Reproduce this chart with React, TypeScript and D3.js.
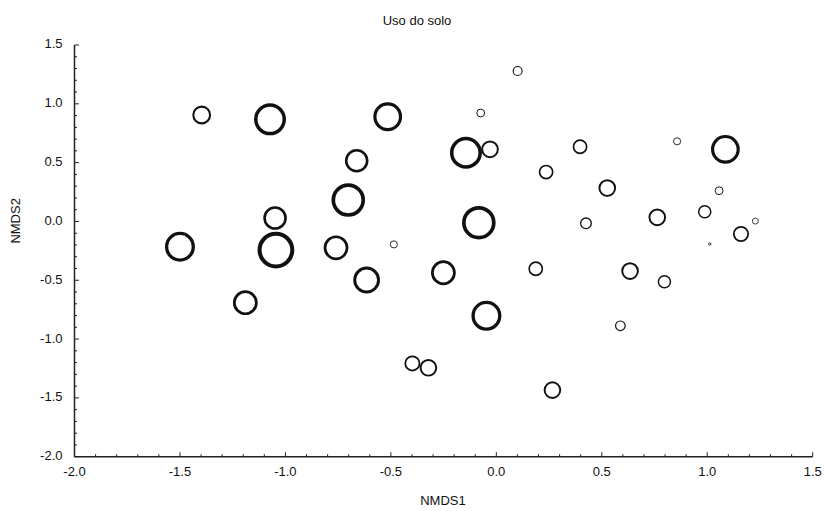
import React from "react";
import * as d3 from "d3";

const title = "Uso do solo";
const xLabel = "NMDS1";
const yLabel = "NMDS2";

const nmds1 = [
  -1.397, -1.073, -0.515, -0.662, -0.702, -1.049, -1.5, -1.045, -0.76, -0.486,
  -0.615, -1.19, -0.398, -0.322, 0.101, -0.074, -0.144, -0.03, 0.397, 0.857,
  1.086, 0.236, 0.526, 1.056, -0.083, 0.425, 0.763, 0.988, 1.228, 1.16,
  1.012, -0.251, 0.187, 0.634, 0.797, -0.047, 0.588, 0.266,
];
const nmds2 = [
  0.905, 0.868, 0.89, 0.516, 0.182, 0.029, -0.215, -0.243, -0.224, -0.195,
  -0.498, -0.691, -1.207, -1.244, 1.279, 0.922, 0.584, 0.613, 0.635, 0.681,
  0.613, 0.42, 0.284, 0.261, -0.011, -0.016, 0.035, 0.082, 0.003, -0.107,
  -0.192, -0.436, -0.402, -0.422, -0.513, -0.802, -0.887, -1.434,
];
const weight = [
  4.7, 8.0, 7.2, 5.9, 8.4, 5.9, 7.5, 9.2, 6.2, 2.0,
  6.7, 6.2, 4.0, 4.4, 2.5, 2.2, 8.0, 4.4, 3.7, 2.0,
  7.2, 3.7, 4.4, 2.2, 8.4, 3.0, 4.4, 3.4, 1.7, 4.0,
  0.8, 6.2, 3.7, 4.4, 3.4, 7.5, 2.7, 4.4,
];

const xTicks = [-2.0, -1.5, -1.0, -0.5, 0.0, 0.5, 1.0, 1.5];
const yTicks = [-2.0, -1.5, -1.0, -0.5, 0.0, 0.5, 1.0, 1.5];

const W = 826;
const H = 511;
const left = 74.5;
const right = 812.7;
const top = 45;
const bottom = 456.7;

export default function App() {
  const x = d3.scaleLinear().domain([-2, 1.5]).range([left, right]);
  const y = d3.scaleLinear().domain([-2, 1.5]).range([bottom, top]);
  const r = d3.scaleLinear().domain([0, 10]).range([0, 20]);
  const minor = d3.range(-20, 16).map((v) => v / 10);
  const font = "'Liberation Sans', Arial, sans-serif";
  const axisColor = "#222";

  return (
    <svg
      width={W}
      height={H}
      style={{ position: "absolute", left: 0, top: 0, background: "#fff" }}
      fontFamily={font}
    >
      <rect x={0} y={0} width={W} height={H} fill="#fff" />
      <text x={417} y={22} textAnchor="middle" dominantBaseline="middle" fontSize={13} fill="#111">
        {title}
      </text>

      {/* bubbles */}
      {nmds1.map((v, i) => {
        const outer = r(weight[i]);
        const sw = Math.max(0.8, outer * 0.22);
        return (
          <circle
            key={i}
            cx={x(v)}
            cy={y(nmds2[i])}
            r={Math.max(0.5, outer - sw / 2)}
            fill="none"
            stroke="#111"
            strokeWidth={sw}
          />
        );
      })}

      {/* axes */}
      <line x1={left} x2={left} y1={top} y2={bottom} stroke={axisColor} strokeWidth={1.5} />
      <line x1={left} x2={right} y1={bottom} y2={bottom} stroke={axisColor} strokeWidth={1.5} />
      {minor.map((v, i) => {
        const major = Math.abs(Math.round(v * 10) % 5) === 0;
        const len = major ? 4.5 : 2.5;
        return (
          <g key={"t" + i}>
            <line x1={x(v)} x2={x(v)} y1={bottom} y2={bottom - len} stroke={axisColor} strokeWidth={1} />
            <line x1={left} x2={left + len} y1={y(v)} y2={y(v)} stroke={axisColor} strokeWidth={1} />
          </g>
        );
      })}
      {xTicks.map((v) => (
        <text key={"xl" + v} x={x(v)} y={473} textAnchor="middle" dominantBaseline="middle" fontSize={13} fill="#111">
          {v.toFixed(1)}
        </text>
      ))}
      {yTicks.map((v) => (
        <text key={"yl" + v} x={left - 12} y={y(v)} textAnchor="end" dominantBaseline="middle" fontSize={13} fill="#111">
          {v.toFixed(1)}
        </text>
      ))}
      <text x={443} y={502} textAnchor="middle" dominantBaseline="middle" fontSize={13} fill="#111">
        {xLabel}
      </text>
      <text
        transform={`translate(17, ${(top + bottom) / 2 - 30}) rotate(-90)`}
        textAnchor="middle"
        dominantBaseline="middle"
        fontSize={13}
        fill="#111"
      >
        {yLabel}
      </text>
    </svg>
  );
}
